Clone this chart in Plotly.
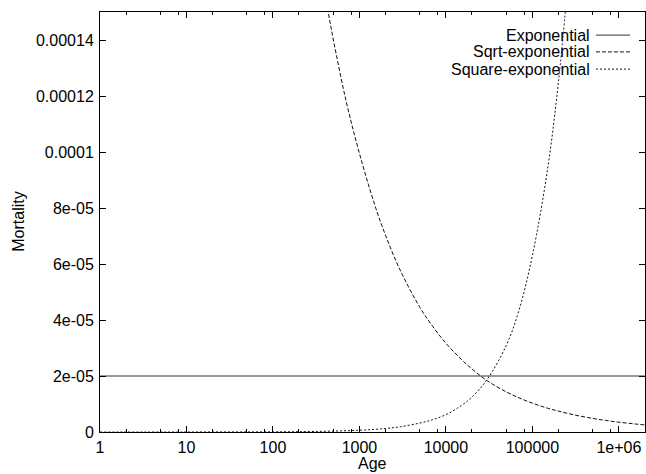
import plotly.graph_objects as go

# ---- data ----
series_names = ["Exponential", "Sqrt-exponential", "Square-exponential"]

ages_exp = [1, 2000000]
mort_exp = [2e-05, 2e-05]

ages_sqrt = [300, 400, 500, 700, 1000, 1500, 2000, 3000, 5000, 7000, 10000, 15000,
             20000, 30000, 50000, 70000, 100000, 150000, 200000, 300000, 500000,
             700000, 1000000, 1500000, 2000000]
mort_sqrt = [1.81e-04, 1.565e-04, 1.40e-04, 1.183e-04, 9.95e-05, 8.12e-05, 7.03e-05,
             5.74e-05, 4.45e-05, 3.78e-05, 3.17e-05, 2.6e-05, 2.25e-05, 1.83e-05,
             1.43e-05, 1.22e-05, 1.03e-05, 8.5e-06, 7.46e-06, 6.16e-06, 4.84e-06,
             4.14e-06, 3.5e-06, 2.9e-06, 2.53e-06]

ages_sq = [1, 10, 100, 300, 1000, 2000, 3000, 5000, 7000, 10000, 15000, 20000,
           30000, 50000, 70000, 100000, 150000, 200000, 250000]
mort_sq = [6e-10, 6e-09, 6e-08, 1.9e-07, 6.3e-07, 1.25e-06, 1.9e-06, 3.2e-06,
           4.4e-06, 6.2e-06, 9.4e-06, 1.25e-05, 1.88e-05, 3.1e-05, 4.35e-05,
           6.3e-05, 9.4e-05, 1.25e-04, 1.56e-04]

x_tickvals = [1, 10, 100, 1000, 10000, 100000, 1000000]
x_ticktext = ["1", "10", "100", "1000", "10000", "100000", "1e+06"]
x_minorvals = [m * 10 ** d for d in range(0, 7) for m in (2, 5, 8)]
y_tickvals = [0, 2e-05, 4e-05, 6e-05, 8e-05, 0.0001, 0.00012, 0.00014]
y_ticktext = ["0", "2e-05", "4e-05", "6e-05", "8e-05", "0.0001", "0.00012", "0.00014"]

FONT = "Liberation Sans, Arial, Helvetica, sans-serif"
FS = 16
dashes = ["solid", "4px,2px", "2px,2px"]
colors = ["#333333", "#111111", "#111111"]

fig = go.Figure()
fig.add_trace(go.Scatter(x=ages_exp, y=mort_exp, mode="lines", name=series_names[0],
                         line=dict(color=colors[0], width=1, dash=dashes[0])))
fig.add_trace(go.Scatter(x=ages_sqrt, y=mort_sqrt, mode="lines", name=series_names[1],
                         line=dict(color=colors[1], width=1, dash=dashes[1], shape="spline")))
fig.add_trace(go.Scatter(x=ages_sq, y=mort_sq, mode="lines", name=series_names[2],
                         line=dict(color=colors[2], width=1, dash=dashes[2], shape="spline")))

# legend drawn gnuplot-style: text right-aligned, sample line to the right
leg_y = [0.945, 0.905, 0.864]
for i, name in enumerate(series_names):
    fig.add_annotation(xref="paper", yref="paper", x=0.902, y=leg_y[i], text=name,
                       showarrow=False, xanchor="right", yanchor="middle",
                       font=dict(family=FONT, size=FS, color="black"))
    fig.add_shape(type="line", xref="paper", yref="paper", x0=0.910, x1=0.9725,
                  y0=leg_y[i], y1=leg_y[i],
                  line=dict(color=colors[i], width=1, dash=dashes[i]))

# axis titles placed as in the reference
fig.add_annotation(xref="paper", yref="paper", x=0.5, y=-0.0755, text="Age",
                   showarrow=False, xanchor="center", yanchor="middle",
                   font=dict(family=FONT, size=FS, color="black"))
fig.add_annotation(xref="paper", yref="paper", x=-0.151, y=0.5, text="Mortality",
                   showarrow=False, xanchor="center", yanchor="middle", textangle=-90,
                   font=dict(family=FONT, size=FS, color="black"))

axis_common = dict(showline=True, linecolor="black", linewidth=1, mirror="allticks",
                   ticks="inside", tickcolor="black", showgrid=False, zeroline=False,
                   tickfont=dict(family=FONT, size=FS, color="black"))

fig.update_layout(
    width=646, height=474,
    margin=dict(l=100, r=1, t=12, b=42),
    paper_bgcolor="white", plot_bgcolor="white",
    showlegend=False,
    font=dict(family=FONT, size=FS, color="black"),
    xaxis=dict(type="log", range=[0, 6.302], tickmode="array",
               tickvals=x_tickvals, ticktext=x_ticktext, ticklen=6,
               ticklabelstandoff=1,
               minor=dict(tickmode="array", tickvals=x_minorvals, ticks="inside",
                          ticklen=3, tickcolor="black", showgrid=False),
               **axis_common),
    yaxis=dict(range=[0, 0.00015], tickmode="array", tickvals=y_tickvals,
               ticktext=y_ticktext, ticklen=6, ticklabelstandoff=2,
               **axis_common),
)

fig.write_html("out.html")
